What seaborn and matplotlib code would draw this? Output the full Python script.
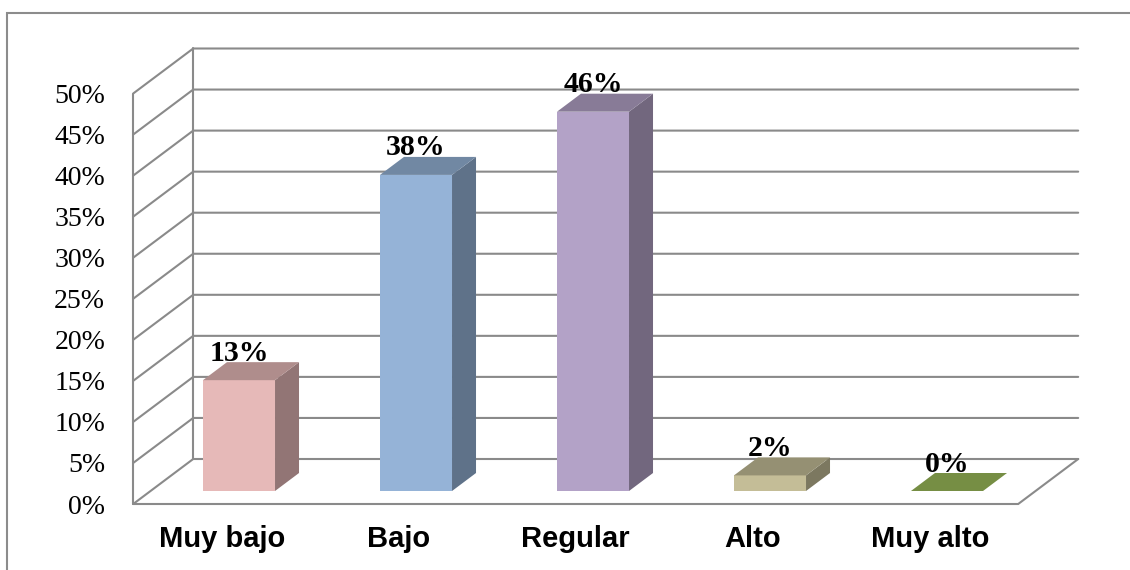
import matplotlib
matplotlib.use("Agg")
import matplotlib.pyplot as plt
import seaborn as sns
import numpy as np
import pandas as pd
from matplotlib.patches import Polygon, Rectangle
from matplotlib.transforms import ScaledTranslation
from matplotlib.colors import to_rgb

# ---- data ----
categories = ["Muy bajo", "Bajo", "Regular", "Alto", "Muy alto"]
values = [13.5, 38.5, 46.2, 1.9, 0]
value_labels = ["13%", "38%", "46%", "2%", "0%"]
y_ticks = [0, 5, 10, 15, 20, 25, 30, 35, 40, 45, 50]
y_tick_labels = ["0%", "5%", "10%", "15%", "20%", "25%", "30%", "35%", "40%", "45%", "50%"]
front_colors = ["#E6B9B8", "#95B3D7", "#B3A2C7", "#C4BD97", "#9BBB59"]

# ---- style ----
sns.set_theme(style="white")
SERIF = ["Liberation Serif", "DejaVu Serif"]
SANS = ["Liberation Sans", "DejaVu Sans"]
GRID = "#8a8a8a"

W, H, DPI = 1130, 570, 100
fig = plt.figure(figsize=(W / DPI, H / DPI), dpi=DPI)
fig.patch.set_facecolor("white")
# axes = plane in which the bar front faces lie
ax = fig.add_axes([150.5 / W, (H - 491) / H, 885 / W, 410.5 / H])

df = pd.DataFrame({"cat": categories, "val": values})
sns.barplot(data=df, x="cat", y="val", hue="cat", palette=front_colors,
            saturation=1, width=0.407, legend=False, ax=ax,
            edgecolor="none", linewidth=0, zorder=5)
ax.set_xlim(-0.5, 4.5)
ax.set_ylim(0, 50)
ax.axis("off")


def px(dx, dy):
    """convert a pixel offset to data units of ax"""
    o = ax.transData.transform((0, 0))
    sx = ax.transData.transform((1, 0))[0] - o[0]
    sy = ax.transData.transform((0, 1))[1] - o[1]
    return dx / sx, dy / sy


def off(dx, dy):
    return ax.transData + ScaledTranslation(dx / DPI, dy / DPI, fig.dpi_scale_trans)


FRONT = (-17.3, -13.0)
BACK = (42.7, 32.0)
fx, fy = px(*FRONT)
bx, by = px(*BACK)
x0, x1 = ax.get_xlim()
lw = 1.5

# walls and gridlines
for t in y_ticks:
    ax.plot([x0 + fx, x0 + bx, x1 + bx], [t + fy, t + by, t + by], color=GRID,
            lw=lw, zorder=1, clip_on=False, solid_joinstyle="miter")
ax.plot([x0 + fx, x0 + fx], [fy, y_ticks[-1] + fy], color=GRID, lw=lw, zorder=1, clip_on=False)
ax.plot([x0 + bx, x0 + bx], [by, y_ticks[-1] + by], color=GRID, lw=lw, zorder=1, clip_on=False)
ax.plot([x0 + fx, x1 + fx, x1 + bx], [fy, fy, by], color=GRID, lw=lw, zorder=1,
        clip_on=False, solid_joinstyle="miter")

# 3D faces of the bars
ddx, ddy = px(24, 18)
for p in ax.patches[:]:
    x, w, h = p.get_x(), p.get_width(), p.get_height()
    base = np.array(to_rgb(p.get_facecolor()))
    side = tuple(base * 0.635)
    top = tuple(base * 0.76)
    ax.add_patch(Polygon([(x + w, 0), (x + w, h), (x + w + ddx, h + ddy), (x + w + ddx, ddy)],
                         closed=True, facecolor=side, edgecolor="none", zorder=5, clip_on=False))
    ax.add_patch(Polygon([(x, h), (x + w, h), (x + w + ddx, h + ddy), (x + ddx, h + ddy)],
                         closed=True, facecolor=top, edgecolor="none", zorder=5, clip_on=False))

# value labels
for i, (v, lab) in enumerate(zip(values, value_labels)):
    ax.text(i, v, lab, transform=off(0, 27), ha="center", va="center",
            family=SERIF, fontweight="bold", fontsize=21.5, color="black", zorder=10, clip_on=False)

# y tick labels (front edge of the left wall)
for t, lab in zip(y_ticks, y_tick_labels):
    ax.text(x0, t, lab, transform=off(FRONT[0] - 28, FRONT[1] - 3), ha="right", va="center",
            family=SERIF, fontsize=20, color="black", clip_on=False)

# category labels
for i, c in enumerate(categories):
    ax.text(i, 0, c, transform=off(FRONT[0], FRONT[1] - 43), ha="center", va="baseline",
            family=SANS, fontweight="bold", fontsize=21, color="black", clip_on=False)

# chart border
fig.add_artist(Rectangle((7 / W, -0.05), 1.1, 1 - 13 / H + 0.05, transform=fig.transFigure,
                         fill=False, edgecolor="#8c8c8c", lw=1.5))

fig.savefig("out.png", dpi=DPI, facecolor="white")
